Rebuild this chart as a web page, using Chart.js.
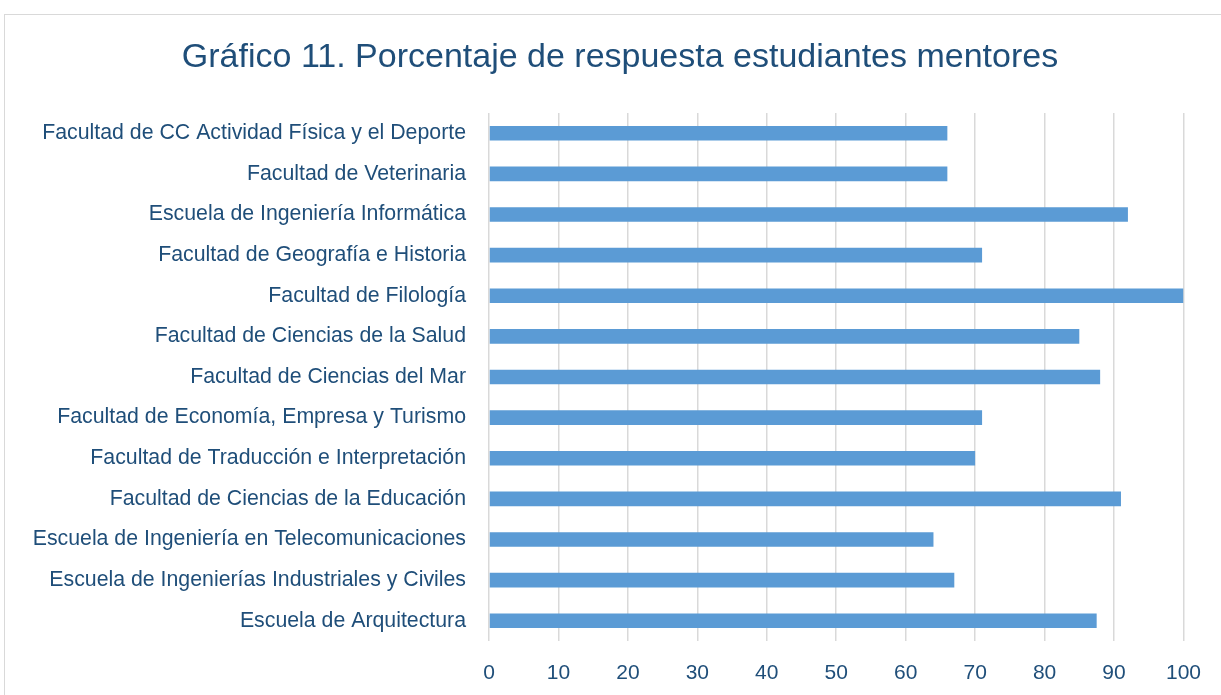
<!DOCTYPE html>
<html>
<head>
<meta charset="utf-8">
<script src="https://cdn.jsdelivr.net/npm/chart.js@4"></script>
<style>
    html, body { margin: 0; padding: 0; background: #fff; overflow: hidden; }
    .frame { position: absolute; left: 4px; top: 14px; width: 1240px; height: 720px; border: 1px solid #d9d9d9; box-sizing: border-box; }
    .wrap { position: absolute; left: 0; top: 0; width: 1221px; height: 695px; }
</style>
</head>
<body>
<div class="frame"></div>
<div class="wrap"><canvas id="chart" width="1221" height="695"></canvas></div>
<script>
// Data (top to bottom)
const faculties = [
    "Facultad de CC Actividad Física y el Deporte",
    "Facultad de Veterinaria",
    "Escuela de Ingeniería Informática",
    "Facultad de Geografía e Historia",
    "Facultad de Filología",
    "Facultad de Ciencias de la Salud",
    "Facultad de Ciencias del Mar",
    "Facultad de Economía, Empresa y Turismo",
    "Facultad de Traducción e Interpretación",
    "Facultad de Ciencias de la Educación",
    "Escuela de Ingeniería en Telecomunicaciones",
    "Escuela de Ingenierías Industriales y Civiles",
    "Escuela de Arquitectura"
];
const responseRate = [66, 66, 92, 71, 100, 85, 88, 71, 70, 91, 64, 67, 87.5];
const xTicks = [0, 10, 20, 30, 40, 50, 60, 70, 80, 90, 100];
const chartTitle = 'Gráfico 11. Porcentaje de respuesta estudiantes mentores';

const textColor = '#1F4E79';
const fontFamily = '"Liberation Sans", Arial, sans-serif';

// Title is centred on the whole frame, not on the plot, so draw it ourselves
const frameTitle = {
    id: 'frameTitle',
    afterDraw(chart) {
        const c = chart.ctx;
        c.save();
        c.fillStyle = textColor;
        c.font = '34px ' + fontFamily;
        c.textAlign = 'center';
        c.textBaseline = 'middle';
        c.fillText(chartTitle, 620, 58);
        c.restore();
    }
};

const ctx = document.getElementById('chart').getContext('2d');
new Chart(ctx, {
    type: 'bar',
    data: {
        labels: faculties,
        datasets: [{
            data: responseRate,
            backgroundColor: '#5B9BD5',
            borderWidth: 0,
            categoryPercentage: 1,
            barPercentage: 0.36
        }]
    },
    options: {
        indexAxis: 'y',
        responsive: false,
        animation: false,
        layout: { padding: { left: 0, right: 36, top: 113, bottom: 0 } },
        scales: {
            x: {
                min: 0,
                max: 100,
                afterBuildTicks: (axis) => { axis.ticks = xTicks.map(v => ({ value: v })); },
                afterFit: (axis) => { axis.height = 54; },
                grid: { color: '#d9d9d9', lineWidth: 1.5, drawTicks: false },
                border: { display: false },
                ticks: { color: textColor, padding: 20, font: { family: fontFamily, size: 21 } }
            },
            y: {
                afterFit: (axis) => { axis.width = 489; },
                grid: { display: false, drawTicks: false },
                border: { display: false },
                ticks: { color: textColor, padding: 23, font: { family: fontFamily, size: 21.3 } }
            }
        },
        plugins: {
            legend: { display: false },
            tooltip: { enabled: false },
            title: { display: false }
        }
    },
    plugins: [frameTitle]
});
</script>
</body>
</html>
